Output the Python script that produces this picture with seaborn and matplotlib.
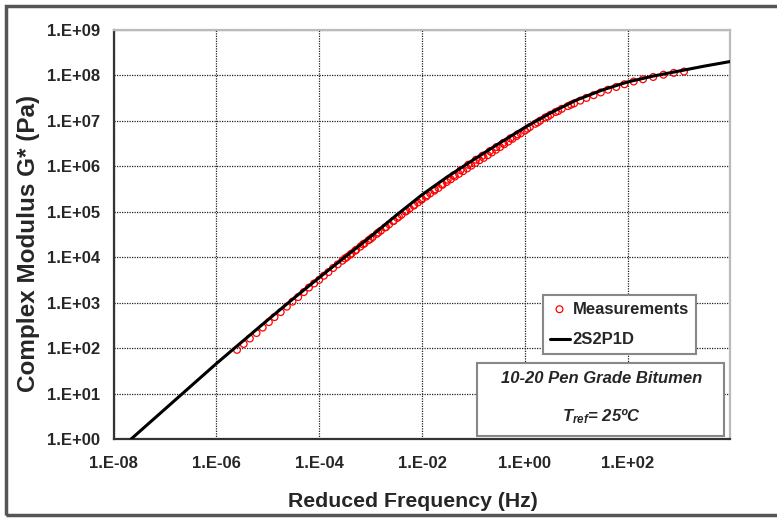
import numpy as np
import pandas as pd
import matplotlib
matplotlib.use("Agg")
import matplotlib.pyplot as plt
import matplotlib.ticker as mticker
from matplotlib.patches import Rectangle
import seaborn as sns


# 2S2P1D master curve (log10 values)
model_logf = [-7.66, -7.5, -7.0, -6.5, -6.0, -5.5, -5.0, -4.5, -4.0, -3.5, -3.0,
              -2.5, -2.0, -1.5, -1.0, -0.5, 0.0, 0.5, 1.0, 1.5, 2.0, 2.5, 3.0,
              3.5, 4.0]
model_logg = [0.0, 0.16, 0.66, 1.16, 1.66, 2.14, 2.62, 3.09, 3.55, 4.0, 4.45,
              4.92, 5.37, 5.77, 6.14, 6.5, 6.85, 7.17, 7.45, 7.67, 7.85, 7.98, 8.09,
              8.2, 8.3]

# Measurements (log10 values)
meas_logf = [-5.60, -5.47, -5.35, -5.22, -5.10, -4.98, -4.87, -4.75, -4.63, -4.52,
             -4.41, -4.30, -4.20, -4.10, -4.00, -3.91, -3.82, -3.73, -3.64, -3.55,
             -3.46, -3.37, -3.28, -3.20, -3.12, -3.04, -2.96, -2.88, -2.80, -2.72,
             -2.64, -2.56, -2.48, -2.40, -2.32, -2.24, -2.16, -2.08, -2.00, -1.92,
             -1.84, -1.76, -1.68, -1.60, -1.52, -1.44, -1.36, -1.28, -1.20, -1.12,
             -1.04, -0.96, -0.88, -0.80, -0.72, -0.64, -0.56, -0.48, -0.40, -0.32,
             -0.24, -0.16, -0.08, 0.00, 0.10, 0.20, 0.30, 0.40, 0.50, 0.60,
             0.72, 0.84, 0.96, 1.08, 1.20, 1.34, 1.48, 1.62, 1.78, 1.94,
             2.12, 2.30, 2.50, 2.70, 2.90, 3.10,
             -3.50, -3.40, -3.30, -3.15, -3.00, -2.85, -2.70, -2.55, -2.45, -2.30,
             -2.15, -2.02, -1.90, -1.75, -1.62, -1.50, -1.38, -1.25, -1.10, -0.95,
             -0.82, -0.68, -0.55, -0.42, -0.28, -0.14, 0.05, 0.25, 0.45, 0.65, 0.90]
meas_logg = [1.96, 2.09, 2.21, 2.33, 2.45, 2.57, 2.68, 2.79, 2.91, 3.02,
             3.12, 3.23, 3.33, 3.42, 3.50, 3.59, 3.67, 3.76, 3.84, 3.92,
             4.00, 4.08, 4.16, 4.23, 4.30, 4.37, 4.44, 4.51, 4.58, 4.65,
             4.72, 4.79, 4.86, 4.93, 5.00, 5.07, 5.13, 5.20, 5.27, 5.33,
             5.40, 5.46, 5.52, 5.59, 5.65, 5.71, 5.77, 5.83, 5.89, 5.95,
             6.01, 6.07, 6.13, 6.18, 6.24, 6.30, 6.36, 6.42, 6.48, 6.54,
             6.60, 6.66, 6.72, 6.78, 6.86, 6.93, 7.00, 7.07, 7.13, 7.19,
             7.26, 7.32, 7.38, 7.44, 7.50, 7.56, 7.62, 7.68, 7.74, 7.80,
             7.86, 7.91, 7.96, 8.01, 8.05, 8.08,
             3.97, 4.05, 4.14, 4.28, 4.40, 4.54, 4.66, 4.80, 4.89, 5.02,
             5.15, 5.26, 5.36, 5.49, 5.60, 5.70, 5.80, 5.91, 6.03, 6.14,
             6.23, 6.33, 6.42, 6.51, 6.61, 6.70, 6.82, 6.96, 7.09, 7.21, 7.35]

model = pd.DataFrame({"f": np.power(10.0, model_logf), "G": np.power(10.0, model_logg)})
meas = pd.DataFrame({"f": np.power(10.0, meas_logf), "G": np.power(10.0, meas_logg)})

sns.set_style("white")
plt.rcParams["font.family"] = ["Liberation Sans", "DejaVu Sans"]
plt.rcParams["mathtext.fontset"] = "custom"
plt.rcParams["mathtext.it"] = "Liberation Sans:bold:italic"
plt.rcParams["mathtext.rm"] = "Liberation Sans:bold"

fig = plt.figure(figsize=(7.77, 5.18), dpi=100)
ax = fig.add_axes([0.1463, 0.1525, 0.7936, 0.7902])

sns.scatterplot(data=meas, x="f", y="G", ax=ax, marker="o", s=24,
                facecolors="none", edgecolor="#ff0000", linewidth=0.9,
                label="Measurements", zorder=3)
sns.lineplot(data=model, x="f", y="G", ax=ax, color="black", linewidth=2.2,
             label="2S2P1D", zorder=4)

ax.set_xscale("log")
ax.set_yscale("log")
ax.set_xlim(1e-8, 1e4)
ax.set_ylim(1e0, 1e9)


def sci_fmt(v, pos):
    e = int(round(np.log10(v)))
    return f"1.E{e:+03d}"


ax.xaxis.set_major_locator(mticker.FixedLocator([10.0 ** e for e in range(-8, 3, 2)]))
ax.xaxis.set_major_formatter(mticker.FuncFormatter(sci_fmt))
ax.xaxis.set_minor_locator(mticker.FixedLocator(
    [k * 10.0 ** e for e in range(-7, 4, 2) for k in range(1, 10)]))
ax.yaxis.set_major_locator(mticker.FixedLocator([10.0 ** e for e in range(0, 10)]))
ax.yaxis.set_major_formatter(mticker.FuncFormatter(sci_fmt))
ax.yaxis.set_minor_locator(mticker.LogLocator(base=10, subs=np.arange(2, 10), numticks=20))
ax.xaxis.set_minor_formatter(mticker.NullFormatter())
ax.yaxis.set_minor_formatter(mticker.NullFormatter())

ax.tick_params(which="major", direction="out", length=4, width=1, color="#333333",
               labelsize=12)
ax.tick_params(axis="x", which="major", pad=8)
ax.tick_params(axis="y", which="major", pad=6)
ax.tick_params(which="minor", direction="in", length=3, width=0.8, color="#555555")
for lab in ax.get_xticklabels() + ax.get_yticklabels():
    lab.set_fontweight("bold")

ax.grid(True, which="major", linestyle=(0, (1, 1)), color="#222222", linewidth=0.9)
for side in ["left", "bottom"]:
    ax.spines[side].set_color("#333333")
    ax.spines[side].set_linewidth(1.6)
for side in ["top", "right"]:
    ax.spines[side].set_color("#bbbbbb")
    ax.spines[side].set_linewidth(1.6)

ax.set_xlabel("Reduced Frequency (Hz)", fontsize=15.3, fontweight="bold", va="center")
ax.xaxis.set_label_coords(0.4846, -0.153)
ax.set_ylabel("Complex Modulus G* (Pa)", fontsize=17.5, fontweight="bold", va="center")
ax.yaxis.set_label_coords(-0.1385, 0.478)

leg = ax.legend(loc="upper left", bbox_to_anchor=(0.696, 0.352), frameon=True,
                fancybox=False, edgecolor="#888888", framealpha=1,
                prop={"weight": "bold", "size": 12}, handlelength=1.2,
                handletextpad=0.2, borderpad=0.4, borderaxespad=0,
                labelspacing=0.95)
leg.get_frame().set_linewidth(1.5)

ax.add_patch(Rectangle((0.59, 0.0073), 0.40, 0.179, transform=ax.transAxes,
                       facecolor="white", edgecolor="#888888", linewidth=1.5,
                       zorder=6))
ax.text(0.791, 0.1466, "10-20 Pen Grade Bitumen", transform=ax.transAxes,
        ha="center", va="center", fontsize=12, fontweight="bold",
        fontstyle="italic", zorder=7)
ax.text(0.791, 0.0537, r"$T_{ref}$= 25ºC", transform=ax.transAxes,
        ha="center", va="center", fontsize=12, fontweight="bold",
        fontstyle="italic", zorder=7)

fig.add_artist(Rectangle((6 / 777, 3 / 518), 1.0, 1 - 9 / 518,
                         transform=fig.transFigure, facecolor="none",
                         edgecolor="#555555", linewidth=2.5))

fig.savefig("out.png", dpi=100)
